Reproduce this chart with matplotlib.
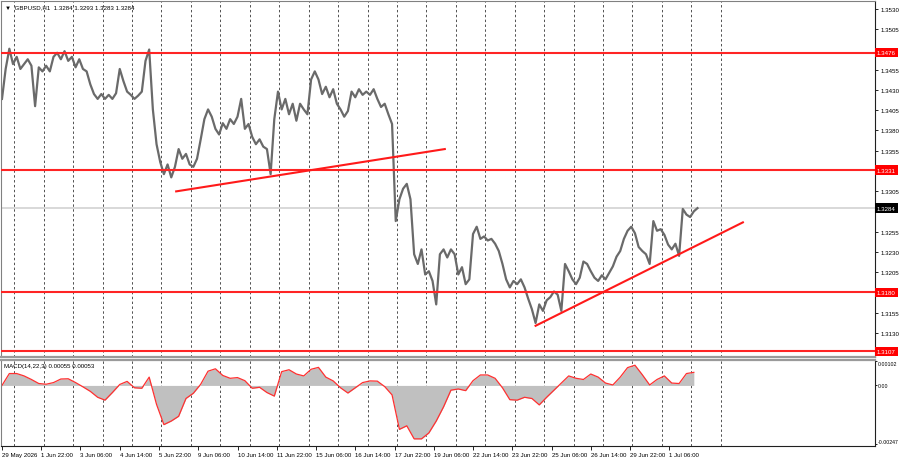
import matplotlib.pyplot as plt
import numpy as np
from matplotlib.transforms import blended_transform_factory

plt.rcParams["font.family"] = ["Liberation Sans", "DejaVu Sans"]

TITLE = "GBPUSD,H1  1.3284 1.3293 1.3283 1.3284"
MACD_TITLE = "MACD(14,22,3) 0.00055 0.00053"

# H1 closes, one value every 3 bars, first bar = 29 May 14:00
close = [
    1.3419, 1.3456, 1.3481, 1.3462, 1.3471, 1.3456, 1.3462, 1.3468, 1.3460, 1.3410,
    1.3458, 1.3453, 1.3460, 1.3453, 1.3471, 1.3476, 1.3468, 1.3478, 1.3466, 1.3471,
    1.3458, 1.3468, 1.3456, 1.3453, 1.3437, 1.3425, 1.3419, 1.3425, 1.3419, 1.3424,
    1.3419, 1.3426, 1.3456, 1.3441, 1.3428, 1.3424, 1.3419, 1.3423, 1.3428, 1.3466,
    1.3480, 1.3406, 1.3363, 1.3341, 1.3326, 1.3338, 1.3322, 1.3335, 1.3357, 1.3345,
    1.3351, 1.3338, 1.3335, 1.3345, 1.3369, 1.3394, 1.3406, 1.3397, 1.3382, 1.3375,
    1.3389, 1.3382, 1.3394, 1.3388, 1.3397, 1.3419, 1.3382, 1.3388, 1.3372, 1.3363,
    1.3369, 1.3360, 1.3357, 1.3326, 1.3394, 1.3428, 1.3406, 1.3419, 1.3400, 1.3413,
    1.3392, 1.3413, 1.3406, 1.3400, 1.3443, 1.3453, 1.3443, 1.3425, 1.3434, 1.3421,
    1.3431, 1.3413, 1.3406, 1.3397, 1.3404, 1.3428, 1.3421, 1.3431, 1.3424, 1.3428,
    1.3424, 1.3431, 1.3419, 1.3409, 1.3413, 1.3400, 1.3388, 1.3268, 1.3295, 1.3308,
    1.3314, 1.3295, 1.3227, 1.3215, 1.3233, 1.3202, 1.3206, 1.3194, 1.3165, 1.3227,
    1.3233, 1.3223, 1.3233, 1.3227, 1.3202, 1.3211, 1.3190, 1.3196, 1.3252, 1.3261,
    1.3246, 1.3249, 1.3244, 1.3246, 1.3240, 1.3231, 1.3215, 1.3196, 1.3186, 1.3194,
    1.3190, 1.3196, 1.3186, 1.3172, 1.3159, 1.3142, 1.3165, 1.3157, 1.3170, 1.3174,
    1.3181, 1.3177, 1.3157, 1.3215, 1.3206, 1.3196, 1.3190, 1.3198, 1.3218, 1.3215,
    1.3206, 1.3198, 1.3194, 1.3201, 1.3196, 1.3204, 1.3212, 1.3224, 1.3231, 1.3246,
    1.3256, 1.3261, 1.3253, 1.3236, 1.3231, 1.3227, 1.3215, 1.3268, 1.3256, 1.3258,
    1.3251, 1.3239, 1.3233, 1.3240, 1.3225, 1.3283, 1.3276, 1.3273, 1.3280, 1.3284,
]

# MACD main, one value every 6 bars
macd = [
    0.00000, 0.00050, 0.00050, 0.00040, 0.00025, 0.00008, 0.00005, 0.00012, 0.00027, 0.00028,
    0.00012, -0.00006, -0.00025, -0.00050, -0.00062, -0.00030, 0.00004, 0.00017, -0.00010, -0.00012,
    0.00035, -0.00080, -0.00165, -0.00150, -0.00130, -0.00055, -0.00033, 0.00005, 0.00060, 0.00070,
    0.00042, 0.00030, 0.00033, 0.00020, -0.00012, -0.00008, -0.00030, -0.00045, 0.00058, 0.00066,
    0.00048, 0.00040, 0.00068, 0.00076, 0.00035, 0.00019, -0.00010, -0.00032, -0.00010, 0.00012,
    0.00019, 0.00018, -0.00005, -0.00040, -0.00185, -0.00170, -0.00225, -0.00225, -0.00200, -0.00150,
    -0.00090, -0.00020, -0.00015, -0.00022, 0.00020, 0.00044, 0.00044, 0.00030, -0.00010, -0.00060,
    -0.00062, -0.00050, -0.00055, -0.00082, -0.00050, -0.00020, 0.00010, 0.00040, 0.00030, 0.00025,
    0.00048, 0.00035, 0.00010, 0.00002, 0.00035, 0.00075, 0.00085, 0.00045, 0.00002, 0.00025,
    0.00040, 0.00010, 0.00008, 0.00050, 0.00055,
]

levels = [1.3476, 1.3331, 1.3180, 1.3107]
last_price = 1.3284

# trend lines as (bar, price)
trend_1 = [(142, 1.33047), (361, 1.33570)]
trend_2 = [(435, 1.31386), (604, 1.32664)]

# right scale labels not hidden behind the level boxes
price_ticks = [1.3130, 1.3155, 1.3205, 1.3230, 1.3255, 1.3305,
               1.3355, 1.3380, 1.3405, 1.3430, 1.3455, 1.3505, 1.3530]

tick_bars = [0, 32, 64, 96, 128, 160, 192, 224, 256, 288, 320, 352, 384, 416, 448, 480, 512, 544]
tick_labels = [
    "29 May 2026", "1 Jun 22:00", "3 Jun 06:00", "4 Jun 14:00", "5 Jun 22:00",
    "9 Jun 06:00", "10 Jun 14:00", "11 Jun 22:00", "15 Jun 06:00", "16 Jun 14:00",
    "17 Jun 22:00", "19 Jun 06:00", "22 Jun 14:00", "23 Jun 22:00", "25 Jun 06:00",
    "26 Jun 14:00", "29 Jun 22:00", "1 Jul 06:00",
]
day_starts = list(range(10, 590, 24))

W, H = 900, 460
FS = 4.4
fig = plt.figure(figsize=(W / 100, H / 100), dpi=100)
ax = fig.add_axes([1 / W, 1 - 358 / H, 874 / W, 356 / H])
axm = fig.add_axes([1 / W, 1 - 447 / H, 874 / W, 86 / H], sharex=ax)

bars = np.arange(len(close)) * 3
macd_bars = np.arange(len(macd)) * 6

for a in (ax, axm):
    for d in day_starts:
        a.axvline(d, color="#505050", lw=0.7, ls=(0, (2.5, 2.5)), zorder=0)

ax.axhline(last_price, color="#d2d2d2", lw=1.2, zorder=1)
for lvl in levels:
    ax.axhline(lvl, color="#ff2424", lw=1.5, zorder=3)
ax.plot(bars, close, color="#6a6a6a", lw=1.6, zorder=2)
for tl in (trend_1, trend_2):
    ax.plot([p[0] for p in tl], [p[1] for p in tl], color="#ff1a1a", lw=1.5, zorder=4)

ax.set_xlim(-0.8, 711.7)
ax.set_ylim(1.3100, 1.3540)
ax.yaxis.tick_right()
ax.set_yticks(price_ticks)
ax.set_yticklabels([f"{t:.4f}" for t in price_ticks])
ax.tick_params(axis="y", length=2.5, pad=1.5, labelsize=FS, width=0.6)
ax.tick_params(axis="x", length=0, labelbottom=False)

trans = blended_transform_factory(ax.transAxes, ax.transData)
for lvl in levels:
    ax.text(1.0022, lvl, f"{lvl:.4f}", transform=trans, ha="left", va="center",
            color="white", fontsize=FS, clip_on=False, zorder=10,
            bbox=dict(boxstyle="square,pad=0.35", fc="#ff0000", ec="none"))
ax.text(1.0022, last_price, f"{last_price:.4f}", transform=trans, ha="left", va="center",
        color="white", fontsize=FS, clip_on=False, zorder=10,
        bbox=dict(boxstyle="square,pad=0.35", fc="#000000", ec="none"))

ax.text(0.0046, 0.983, "\u25bc  " + TITLE, transform=ax.transAxes, fontsize=FS,
        ha="left", va="center", color="#000000")

axm.fill_between(macd_bars, 0, macd, color="#c0c0c0", lw=0, zorder=1)
axm.plot(macd_bars, macd, color="#ff3030", lw=0.9, zorder=2)
axm.set_ylim(-0.00255, 0.00107)
axm.yaxis.tick_right()
axm.set_yticks([-0.00247, 0.0, 0.00102])
axm.set_yticklabels(["-0.00247", "0.00", "0.00102"])
ylabs = axm.get_yticklabels()
ylabs[0].set_va("bottom")
ylabs[2].set_va("top")
axm.tick_params(axis="y", length=1.5, pad=0.6, labelsize=3.8, width=0.6)
axm.text(0.004, 0.94, MACD_TITLE, transform=axm.transAxes, fontsize=FS,
         ha="left", va="center")

axm.set_xticks(tick_bars)
axm.set_xticklabels(tick_labels, ha="left")
axm.tick_params(axis="x", length=3, pad=1.5, labelsize=FS, width=0.6)

for a in (ax, axm):
    a.set_facecolor("white")
    a.spines["left"].set_color("#808080")
    a.spines["right"].set_color("#202020")
    for s in a.spines.values():
        s.set_linewidth(0.8)
ax.spines["top"].set_color("#808080")
ax.spines["bottom"].set_color("#9a9a9a")
ax.spines["bottom"].set_linewidth(1.6)
axm.spines["top"].set_color("#9a9a9a")
axm.spines["top"].set_linewidth(1.6)
axm.spines["bottom"].set_color("#202020")

fig.savefig("out.png", dpi=100, facecolor="white")
